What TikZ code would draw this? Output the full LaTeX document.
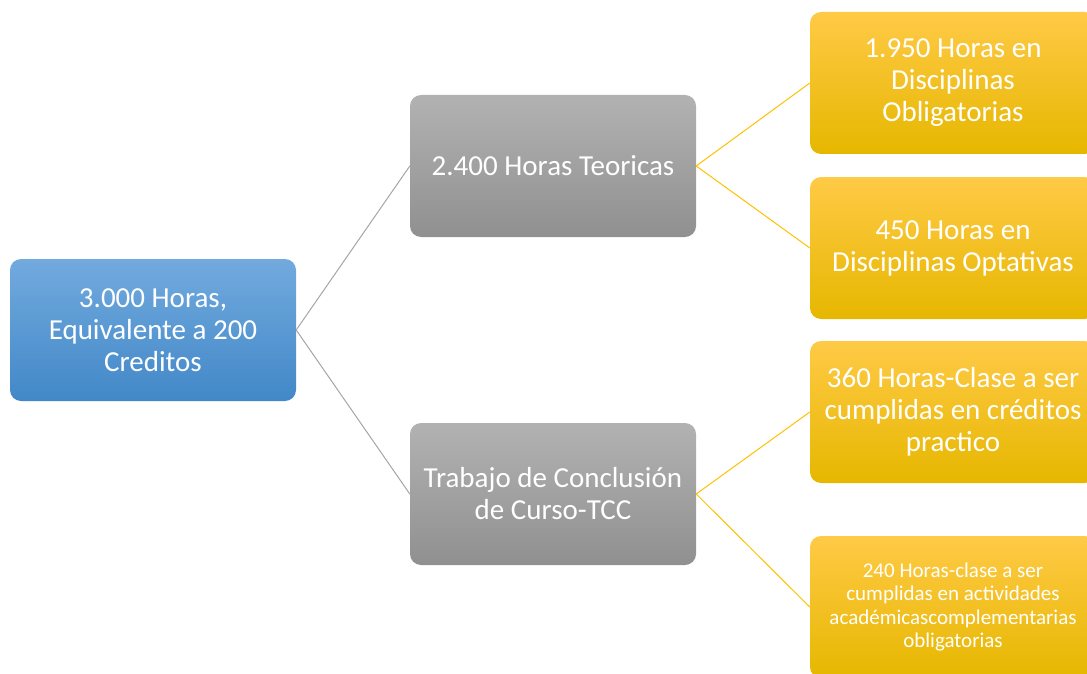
\documentclass[tikz,border=0pt]{standalone}
\usepackage{fontspec}
\setmainfont{Carlito}
\usetikzlibrary{positioning}
\definecolor{blueTop}{RGB}{114,170,222}
\definecolor{blueBot}{RGB}{66,136,200}
\definecolor{grayTop}{RGB}{178,178,178}
\definecolor{grayBot}{RGB}{144,144,144}
\definecolor{goldTop}{RGB}{255,202,70}
\definecolor{goldMid}{RGB}{255,192,0}
\definecolor{goldBot}{RGB}{230,183,0}
\definecolor{lineGray}{RGB}{165,165,165}
\definecolor{lineGold}{RGB}{255,192,0}

\begin{document}
\begin{tikzpicture}[x=1pt,y=-1pt,% pixel units, y grows downwards
			every node/.style={
				rectangle,rounded corners=11pt,
				align=center,		% so that "\\" breaks the line
				text=white,
				minimum width=286pt,minimum height=142pt
			},
			rootbox/.style={top color=blueTop,bottom color=blueBot,font=\fontsize{29}{32}\selectfont},
			midbox/.style={top color=grayTop,bottom color=grayBot,font=\fontsize{29}{32}\selectfont},
			leafbox/.style={top color=goldTop,middle color=goldMid,bottom color=goldBot,font=\fontsize{29}{32}\selectfont},
			grayline/.style={draw=lineGray,line width=1pt},
			goldline/.style={draw=lineGold,line width=1pt}
		]
		\useasboundingbox (0,0) rectangle (1087,674);
		\clip (0,0) rectangle (1087,674);
		\node[rootbox](R1) at (153,330){3.000 Horas,\\ Equivalente a 200\\ Creditos};
		\node[midbox](R2) at (553,166){2.400 Horas Teoricas};
		\node[midbox](R3) at (553,494){Trabajo de Conclusión\\ de Curso-TCC};
		\node[leafbox](R4) at (953,83){1.950 Horas en\\ Disciplinas\\ Obligatorias};
		\node[leafbox](R5) at (953,248){450 Horas en\\ Disciplinas Optativas};
		\node[leafbox](R6) at (953,412){360 Horas-Clase a ser\\ cumplidas en créditos\\ practico};
		\node[leafbox,font=\fontsize{21}{23.3}\selectfont](R7) at (953,607){240 Horas-clase a ser\\ cumplidas en actividades\\ académicascomplementarias\\ obligatorias};
		\path
		(R1.east)edge [grayline] (R2.west)
		(R1.east)edge [grayline] (R3.west)
		(R2.east)edge [goldline] (R4.west)
		(R2.east)edge [goldline] (R5.west)
		(R3.east)edge [goldline] (R6.west)
		(R3.east)edge [goldline] (R7.west)
		;
	\end{tikzpicture}
\end{document}
